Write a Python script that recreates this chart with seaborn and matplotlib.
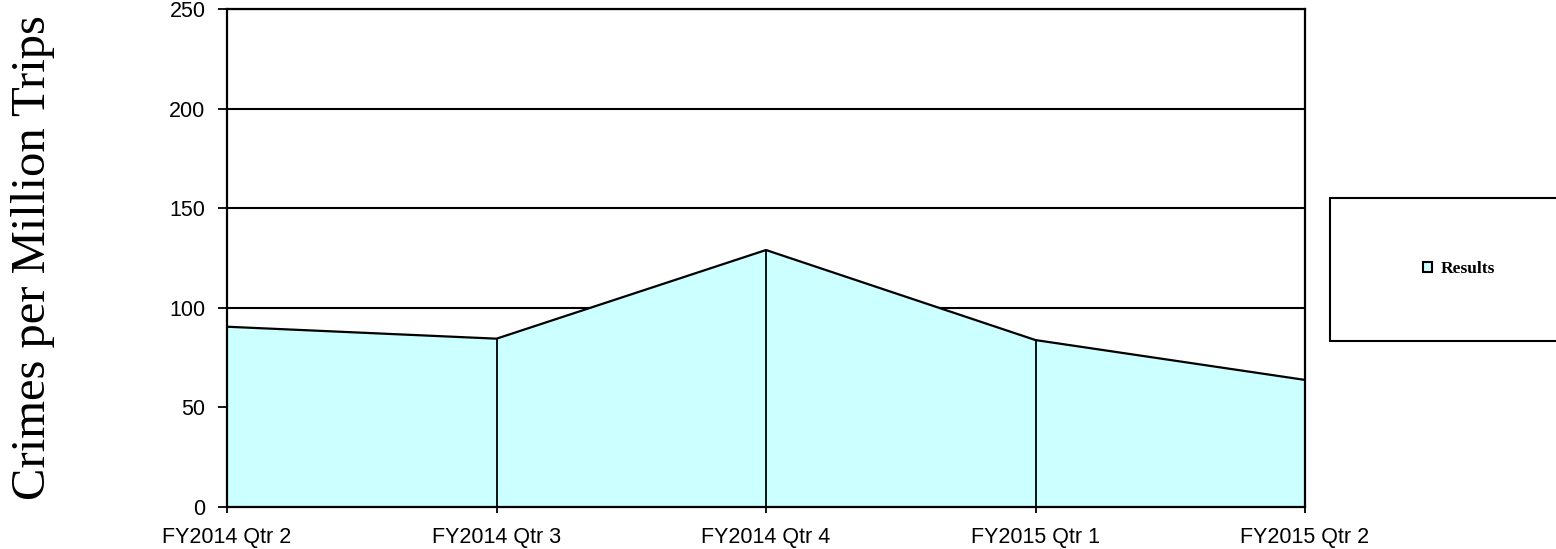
import numpy as np
import pandas as pd
import matplotlib
matplotlib.use("Agg")
import matplotlib.pyplot as plt
import seaborn as sns
from matplotlib.patches import Patch, Rectangle

# data
quarters = ["FY2014 Qtr 2", "FY2014 Qtr 3", "FY2014 Qtr 4", "FY2015 Qtr 1", "FY2015 Qtr 2"]
results = [90.5, 84.5, 129.0, 83.8, 63.8]
y_ticks = [0, 50, 100, 150, 200, 250]

df = pd.DataFrame({"quarter": quarters, "pos": np.arange(len(quarters)), "results": results})

sns.set_style("white")
plt.rcParams["font.family"] = ["Liberation Sans", "DejaVu Sans"]
plt.rcParams.update({"text.color": "black", "axes.labelcolor": "black",
                     "xtick.color": "black", "ytick.color": "black"})

fig = plt.figure(figsize=(15.56, 5.49), dpi=100)
ax = fig.add_axes([227 / 1556, 1 - 507 / 549, (1305 - 227) / 1556, (507 - 9) / 549])

fill_col = "#CCFFFF"
ax.fill_between(df["pos"], 0, df["results"], color=fill_col, zorder=2, linewidth=0)
sns.lineplot(data=df, x="pos", y="results", color="black", linewidth=1.6, ax=ax, zorder=3)
ax.vlines(df["pos"], 0, df["results"], color="black", linewidth=1.3, zorder=3)

# gridlines
for t in y_ticks:
    ax.axhline(t, color="black", linewidth=1.5, zorder=1)

ax.set_xlim(0, len(quarters) - 1)
ax.set_ylim(0, 250)
ax.set_xticks(df["pos"])
ax.set_xticklabels(quarters, fontsize=15.5)
ax.set_yticks(y_ticks)
ax.set_yticklabels([str(t) for t in y_ticks], fontsize=15.5)
ax.tick_params(axis="x", direction="out", length=4.5, width=1.3, color="black",
               labelcolor="black", bottom=True, pad=10)
ax.tick_params(axis="y", direction="out", length=6.5, width=1.3, color="black",
               labelcolor="black", left=True, pad=9)
ax.set_xlabel("")
ax.set_ylabel("Crimes per Million Trips", fontsize=35, color="black",
              family=["Liberation Serif", "DejaVu Serif"], labelpad=0)
ax.yaxis.set_label_coords(-0.16, 0.5)
for s in ax.spines.values():
    s.set_color("black")
    s.set_linewidth(1.6)
    s.set_visible(True)

# legend box on the right, running off the figure edge
fig.patches.append(Rectangle((1330 / 1556, 1 - 341 / 549), 0.2, 143 / 549,
                             transform=fig.transFigure, facecolor="white",
                             edgecolor="black", linewidth=1.5))
handle = Patch(facecolor=fill_col, edgecolor="black", linewidth=1.5, label="Results")
fig.legend(handles=[handle], loc="center", bbox_to_anchor=(1459 / 1556, 1 - 269 / 549),
           frameon=False, handlelength=0.55, handleheight=0.55, handletextpad=0.5,
           labelcolor="black",
           prop={"family": ["Liberation Serif", "DejaVu Serif"], "weight": "bold", "size": 12.5})

fig.savefig("out.png", dpi=100)
